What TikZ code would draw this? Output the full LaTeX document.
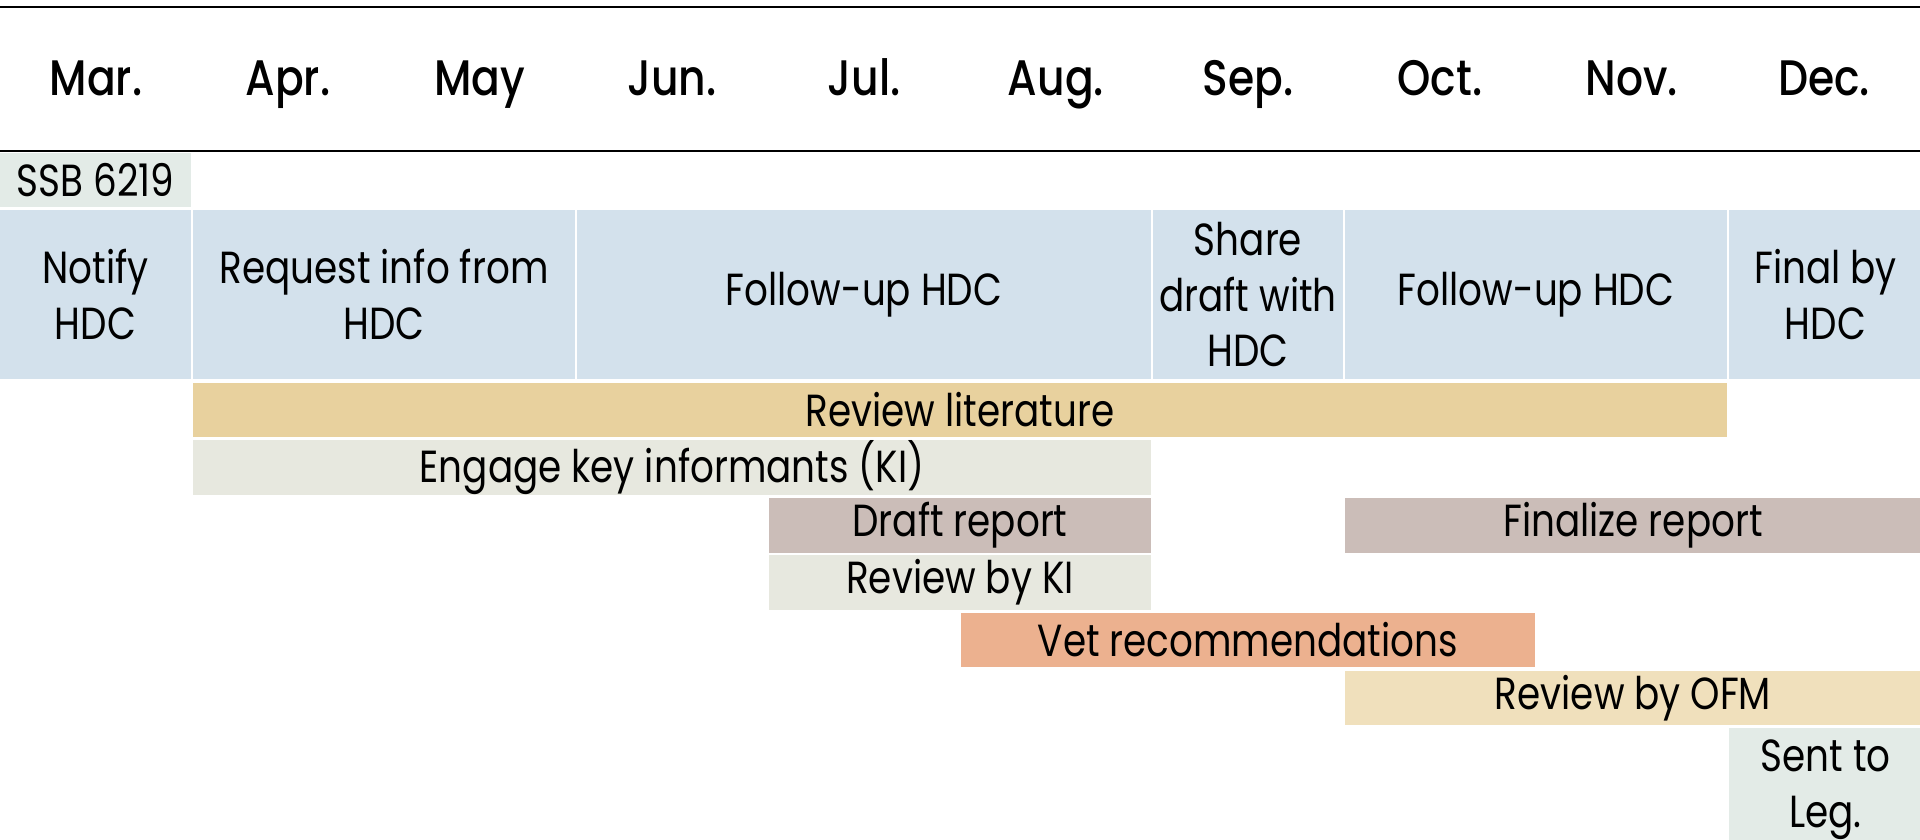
\documentclass[tikz,border=0pt]{standalone}
\usepackage{fontspec}
\setmainfont[FakeStretch=0.83]{Poppins}
\newfontfamily\monthfont[FakeStretch=0.85]{Poppins Medium}
\usepackage{tikz}
\usetikzlibrary{positioning}

\definecolor{hdcblue}{HTML}{D3E1EC}
\definecolor{ssbgrey}{HTML}{E3EBE7}
\definecolor{litgold}{HTML}{E8D19E}
\definecolor{kigrey}{HTML}{E7E8DF}
\definecolor{rptmauve}{HTML}{CBBDB8}
\definecolor{vetorange}{HTML}{ECB18F}
\definecolor{ofmcream}{HTML}{F0E0BC}

\tikzset{
	monthlbl/.style={inner sep=0pt, outer sep=0pt, minimum width=1.92cm,
		text height=0.36cm, text depth=0.1cm,
		font=\monthfont\fontsize{14.2}{17}\selectfont},
	taskbox/.style={fill=#1, inner sep=0pt, outer sep=0pt, align=center,
		minimum height=0.545cm,
		font=\fontsize{12.8}{15.9}\selectfont},
	rule/.style={line width=0.025cm}
}

\begin{document}
\begin{tikzpicture}
			\clip (0,0) rectangle (19.2,-8.39);
			\useasboundingbox (0,0) rectangle (19.2,-8.39);
			
			% Rules
			\coordinate (tl) at (0,-0.07);
			\coordinate (tr) at (19.2,-0.07);
			\coordinate (hl) at (0,-1.51);
			\coordinate (hr) at (19.2,-1.51);
			\draw[rule] (tl) -- (tr);
			\draw[rule] (hl) -- (hr);
			
			% Months
			\node [monthlbl, anchor=base] (mar) at (0.96,-0.95) {Mar.};
			\node [monthlbl, right=0pt of mar] (apr) {Apr.};
			\node [monthlbl, right=0pt of apr] (may) {May};
			\node [monthlbl, right=0pt of may] (jun) {Jun.};
			\node [monthlbl, right=0pt of jun] (jul) {Jul.};
			\node [monthlbl, right=0pt of jul] (aug) {Aug.};
			\node [monthlbl, right=0pt of aug] (sep) {Sep.};
			\node [monthlbl, right=0pt of sep] (oct) {Oct.};
			\node [monthlbl, right=0pt of oct] (nov) {Nov.};
			\node [monthlbl, right=0pt of nov] (dec) {Dec.};
			
			% SSB 6219
			\node [taskbox=ssbgrey, minimum width=1.91cm] (ssb) at (0.955,-1.80) {SSB 6219};
			
			% HDC row
			\node [taskbox=hdcblue, minimum width=1.91cm, minimum height=1.69cm] (notify) at (0.955,-2.945) {Notify\\HDC};
			\node [taskbox=hdcblue, minimum width=3.82cm, minimum height=1.69cm] (request) at (3.84,-2.945) {Request info from\\HDC};
			\node [taskbox=hdcblue, minimum width=5.74cm, minimum height=1.69cm] (followa) at (8.64,-2.945) {Follow-up HDC};
			\node [taskbox=hdcblue, minimum width=1.90cm, minimum height=1.69cm] (share) at (12.48,-2.945) {Share\\draft with\\HDC};
			\node [taskbox=hdcblue, minimum width=3.82cm, minimum height=1.69cm] (followb) at (15.36,-2.945) {Follow-up HDC};
			\node [taskbox=hdcblue, minimum width=1.93cm, minimum height=1.69cm] (final) at (18.255,-2.945) {Final by\\HDC};
			
			% Literature and informants
			\node [taskbox=litgold, minimum width=15.34cm] (lit) at (9.60,-4.10) {Review literature};
			\node [taskbox=kigrey, minimum width=9.58cm] (engage) at (6.72,-4.675) {Engage key informants (KI)};
			
			% Report
			\node [taskbox=rptmauve, minimum width=3.82cm] (draft) at (9.60,-5.255) {Draft report};
			\node [taskbox=rptmauve, minimum width=5.76cm] (finalize) at (16.33,-5.255) {Finalize report};
			\node [taskbox=kigrey, minimum width=3.82cm] (kireview) at (9.60,-5.825) {Review by KI};
			
			% Vetting and sign-off
			\node [taskbox=vetorange, minimum width=5.74cm] (vet) at (12.48,-6.40) {Vet recommendations};
			\node [taskbox=ofmcream, minimum width=5.76cm] (ofm) at (16.33,-6.98) {Review by OFM};
			\node [taskbox=ssbgrey, minimum width=1.93cm, minimum height=1.24cm] (sent) at (18.255,-7.90) {Sent to\\Leg.};
		
		\end{tikzpicture}
\end{document}
